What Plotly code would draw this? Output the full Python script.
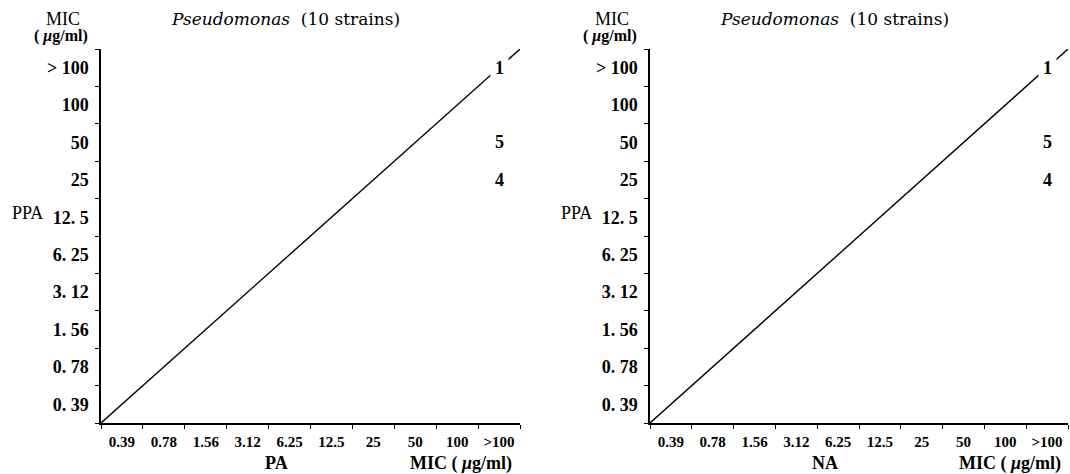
import plotly.graph_objects as go

W, H = 1070, 474

# ---- data ----
mic_levels = ["0.39", "0.78", "1.56", "3.12", "6.25", "12.5", "25", "50", "100", ">100"]
y_tick_text = ["0. 39", "0. 78", "1. 56", "3. 12", "6. 25", "12. 5", "25", "50", "100", "> 100"]
panel_titles = ["<i>Pseudomonas</i>&nbsp; (10 strains)", "<i>Pseudomonas</i>&nbsp; (10 strains)"]
x_drugs = ["PA", "NA"]
y_drug = "PPA"

# counts of strains: (x MIC, y MIC, n)
pa_x = [">100", ">100", ">100"]
pa_y = [">100", "50", "25"]
pa_n = [1, 5, 4]

na_x = [">100", ">100", ">100"]
na_y = [">100", "50", "25"]
na_n = [1, 5, 4]

panels = [(pa_x, pa_y, pa_n), (na_x, na_y, na_n)]

# ---- layout geometry (pixels) ----
x_px = [(101, 520), (650, 1068)]
y_top, y_bot = 49, 423

SERIF = "DejaVu Serif"
LIB = "Liberation Serif"

fig = go.Figure()
n = len(mic_levels)
idx = {c: i for i, c in enumerate(mic_levels)}

for p, (xs, ys, ns) in enumerate(panels):
    xa = "x" if p == 0 else "x2"
    ya = "y" if p == 0 else "y2"
    # identity line y = x across the full grid
    fig.add_trace(go.Scatter(x=[0, n], y=[0, n], mode="lines",
                             line=dict(color="black", width=1.4),
                             xaxis=xa, yaxis=ya, showlegend=False, hoverinfo="skip",
                             cliponaxis=False))
    for cx, cy, cn in zip(xs, ys, ns):
        fig.add_annotation(x=idx[cx] + 0.5, y=idx[cy] + 0.5, xref=xa, yref=ya,
                           text=str(cn), showarrow=False, bgcolor="white",
                           borderpad=4, xanchor="center", yanchor="middle",
                           font=dict(family=LIB, size=18, color="black", weight="bold"))

axis_common = dict(range=[0, n], showgrid=False, zeroline=False, showline=True,
                   linecolor="black", linewidth=1.5, ticks="",
                   tickmode="array", tickvals=[i + 0.5 for i in range(n)],
                   minor=dict(ticks="outside", tickmode="linear", tick0=0, dtick=1,
                              ticklen=4, tickwidth=1.2, tickcolor="black", showgrid=False),
                   fixedrange=True)


def label(x, y, text, size, family=LIB, weight="bold"):
    fig.add_annotation(x=x / W, y=1 - y / H, xref="paper", yref="paper",
                       text=text, showarrow=False, xanchor="center", yanchor="middle",
                       font=dict(family=family, size=size, color="black", weight=weight))


for p in range(2):
    xd = [x_px[p][0] / W, x_px[p][1] / W]
    yd = [1 - y_bot / H, 1 - y_top / H]
    xk = "xaxis" if p == 0 else "xaxis2"
    yk = "yaxis" if p == 0 else "yaxis2"
    fig.update_layout(**{
        xk: dict(axis_common, domain=xd, anchor="y" if p == 0 else "y2",
                 ticktext=mic_levels, ticklabelstandoff=4,
                 tickfont=dict(family=LIB, size=15, color="black", weight="bold")),
        yk: dict(axis_common, domain=yd, anchor="x" if p == 0 else "x2",
                 ticktext=y_tick_text, ticklabelstandoff=7,
                 tickfont=dict(family=LIB, size=18, color="black", weight="bold")),
    })

    x0, x1 = x_px[p]
    label(x0 + 184, 19, panel_titles[p], 17, SERIF, "normal")
    label(x0 - 38, 19, "MIC", 18, weight="normal")
    label(x0 - 40, 36, "( <i>μ</i>g/ml)", 16)
    label(x0 - 74, 213, y_drug, 18, weight="normal")
    label(x0 + 175, 463, x_drugs[p], 18)
    label(x0 + 360, 463, "MIC ( <i>μ</i>g/ml)", 18)

fig.update_layout(width=W, height=H, margin=dict(l=0, r=0, t=0, b=0),
                  paper_bgcolor="white", plot_bgcolor="white", showlegend=False)

fig.write_html("out.html", config={"displayModeBar": False},
               post_script="document.body.style.margin='0';document.body.style.padding='0';")
